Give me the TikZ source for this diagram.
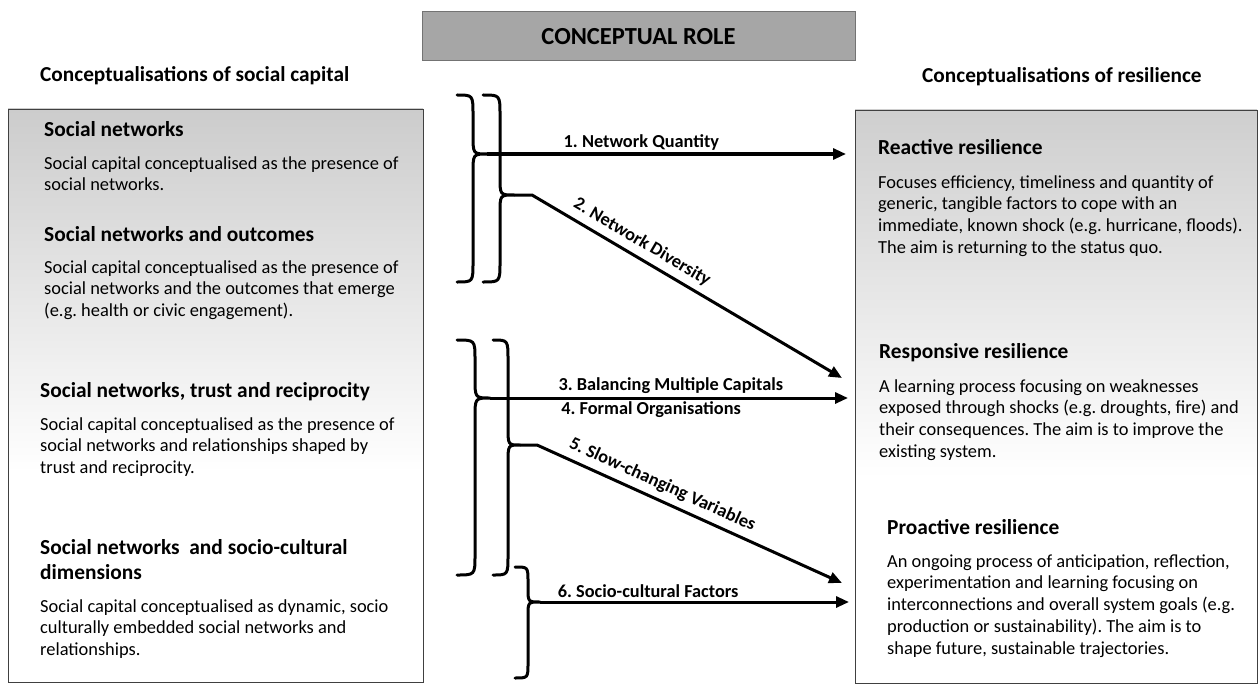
\documentclass[tikz,border=0pt]{standalone}
\usepackage{fontspec}
\setmainfont{Carlito}
\usetikzlibrary{arrows.meta}
\begin{document}
\frenchspacing
\begin{tikzpicture}[x=1pt,y=-1pt,
  boxframe/.style={draw=black!75, line width=1.2pt, inner sep=0pt, anchor=north west},
  colhead/.style={font=\fontsize{21.3}{25}\selectfont\bfseries, anchor=base west, inner sep=0pt},
  head/.style={font=\fontsize{21.4}{25}\selectfont\bfseries, anchor=base west, inner sep=0pt},
  headml/.style={font=\fontsize{21.4}{25}\selectfont\bfseries, anchor=north west, inner sep=0pt, align=left},
  body/.style={font=\fontsize{18.4}{21.8}\selectfont, anchor=north west, inner sep=0pt, align=left},
  brace/.style={line width=3pt, line cap=round, line join=round},
  conn/.style={line width=3pt, line join=round, -{Triangle[length=13pt,width=11pt]}},
  lbl/.style={font=\fontsize{18.3}{21}\selectfont\bfseries, inner sep=2.5pt},
  slbl/.style={lbl, inner sep=1pt, above=5pt, sloped},
]
\useasboundingbox (0,0) rectangle (1258,690);

% top box
\node[draw=black!55, line width=1pt, fill=black!35, minimum width=433pt, minimum height=49pt,
      inner sep=0pt, font=\fontsize{24.5}{28}\selectfont\bfseries] (role) at (638.5,36.5) {CONCEPTUAL ROLE};

% column headings
\node[colhead] (hcap) at (40,82) {Conceptualisations of social capital};
\node[colhead] (hres) at (922,83) {Conceptualisations of resilience};

% boxes
\shade[top color=black!20, bottom color=white] (8,109) rectangle (423,472);
\node[boxframe, minimum width=415pt, minimum height=573pt] (capbox) at (8,109) {};
\shade[top color=black!19, bottom color=white] (855,110) rectangle (1257,478);
\node[boxframe, minimum width=402pt, minimum height=573pt] (resbox) at (855,110) {};

% left texts
\node[head] (s1h) at (44,136) {Social networks};
\node[body] (s1b) at (44,153.7) {\strut Social capital conceptualised as the presence of\\social networks.};
\node[head] (s2h) at (44,241) {Social networks and outcomes};
\node[body] (s2b) at (44,257.7) {\strut Social capital conceptualised as the presence of\\social networks and the outcomes that emerge\\(e.g. health or civic engagement).};
\node[head] (s3h) at (40,397) {Social networks, trust and reciprocity};
\node[body] (s3b) at (40,414.7) {\strut Social capital conceptualised as the presence of\\social networks and relationships shaped by\\trust and reciprocity.};
\node[headml] (s4h) at (40,536.5) {\strut Social networks\ \ and socio-cultural\\dimensions};
\node[body] (s4b) at (40,596.7) {\strut Social capital conceptualised as dynamic, socio\\culturally embedded social networks and\\relationships.};

% right texts
\node[head] (r1h) at (878,154) {Reactive resilience};
\node[body] (r1b) at (878,172.7) {\strut Focuses efficiency, timeliness and quantity of\\generic, tangible factors to cope with an\\immediate, known shock (e.g. hurricane, floods).\\The aim is returning to the status quo.};
\node[head] (r2h) at (879,358) {Responsive resilience};
\node[body] (r2b) at (879,376.7) {\strut A learning process focusing on weaknesses\\exposed through shocks (e.g. droughts, fire) and\\their consequences. The aim is to improve the\\existing system.};
\node[head] (r3h) at (887,534) {Proactive resilience};
\node[body] (r3b) at (887,551.7) {\strut An ongoing process of anticipation, reflection,\\experimentation and learning focusing on\\interconnections and overall system goals (e.g.\\production or sustainability). The aim is to\\shape future, sustainable trajectories.};

% brace tips, knees and arrow ends
\coordinate (a1tip) at (487,154);
\coordinate (a2tip) at (514,195);
\coordinate (a2knee) at (532,195);
\coordinate (b1tip) at (490,398);
\coordinate (b2tip) at (520,445);
\coordinate (b2knee) at (537,445);
\coordinate (ctip) at (540,602);
\coordinate (e1) at (846,154);
\coordinate (e2) at (842,378);
\coordinate (e3) at (848,398);
\coordinate (e5) at (842,583);
\coordinate (e6) at (849,602);

% braces
\draw[brace] (457,95) .. controls (473,95) .. (473,115) -- (473,134)
  .. controls (473,154) .. (a1tip) .. controls (473,154) .. (473,174)
  -- (473,262) .. controls (473,282) .. (457,282);
\draw[brace] (483,95) .. controls (500,95) .. (500,115) -- (500,177)
  .. controls (500,195) .. (a2tip) .. controls (500,195) .. (500,213)
  -- (500,262) .. controls (500,282) .. (483,282);
\draw[brace] (457,340) .. controls (475,340) .. (475,360) -- (475,378)
  .. controls (475,398) .. (b1tip) .. controls (475,398) .. (475,418)
  -- (475,555) .. controls (475,575) .. (457,575);
\draw[brace] (493,340) .. controls (508,340) .. (508,360) -- (508,427)
  .. controls (508,445) .. (b2tip) .. controls (508,445) .. (508,463)
  -- (508,555) .. controls (508,575) .. (493,575);
\draw[brace] (515,567) .. controls (528,567) .. (528,582) -- (528,588)
  .. controls (528,602) .. (ctip) .. controls (528,602) .. (528,616)
  -- (528,663) .. controls (528,678) .. (515,678);

% connectors
\draw[conn] (a1tip) -- node[lbl, pos=0.43, above] (l1) {1. Network Quantity} (e1);
\draw[conn] (a2tip) -- (a2knee) -- node[slbl, pos=0.33] (l2) {2. Network Diversity} (e2);
\draw[conn] (b1tip) -- node[lbl, pos=0.505, above] (l3) {3. Balancing Multiple Capitals}
                       node[lbl, pos=0.45, below] (l4) {4. Formal Organisations} (e3);
\draw[conn] (b2tip) -- (b2knee) -- node[slbl, pos=0.39] (l5) {5. Slow-changing Variables} (e5);
\draw[conn] (ctip) -- node[lbl, pos=0.35, above] (l6) {6. Socio-cultural Factors} (e6);
\end{tikzpicture}
\end{document}
